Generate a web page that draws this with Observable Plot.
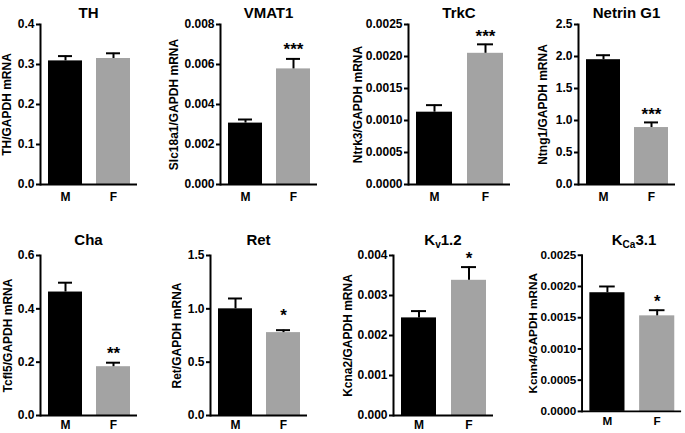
<!DOCTYPE html>
<html><head><meta charset="utf-8">
<script src="https://cdn.jsdelivr.net/npm/d3@7"></script>
<script src="https://cdn.jsdelivr.net/npm/@observablehq/plot@0.6"></script>
<style>
body{margin:0;background:#fff;}
#wrap{position:relative;width:685px;height:433px;overflow:hidden;font-family:"Liberation Sans",Arial,sans-serif;background:#fff;}
.panel{position:absolute;}
.title{position:absolute;font-weight:bold;font-size:15px;transform:translate(-50%,-50%);white-space:nowrap;color:#000;line-height:1;}
.title sub{font-size:10px;vertical-align:-3px;line-height:0;}
</style></head><body><div id="wrap"></div>
<script>
// ---- data ----
const groups = ["M", "F"];
const titles = ["TH", "VMAT1", "TrkC", "Netrin G1", "Cha", "Ret", "K<sub>v</sub>1.2", "K<sub>Ca</sub>3.1"];
const yLabels = ["TH/GAPDH mRNA", "Slc18a1/GAPDH mRNA", "Ntrk3/GAPDH mRNA", "Ntng1/GAPDH mRNA",
                 "Tcfl5/GAPDH mRNA", "Ret/GAPDH mRNA", "Kcna2/GAPDH mRNA", "Kcnn4/GAPDH mRNA"];
const yMax = [0.4, 0.008, 0.0025, 2.5, 0.6, 1.5, 0.004, 0.0025];
const yStep = [0.1, 0.002, 0.0005, 0.5, 0.2, 0.5, 0.001, 0.0005];
const yDecimals = [1, 3, 4, 1, 1, 1, 3, 4];
const meanM = [0.309, 0.00307, 0.00113, 1.95, 0.463, 1.0, 0.00244, 0.0019];
const upperM = [0.321, 0.00325, 0.00124, 2.02, 0.498, 1.097, 0.00261, 0.0020];
const meanF = [0.315, 0.00578, 0.00205, 0.89, 0.183, 0.777, 0.00338, 0.00153];
const upperF = [0.328, 0.00628, 0.00219, 0.97, 0.198, 0.80, 0.00371, 0.00162];
const starsF = ["", "***", "***", "***", "**", "*", "*", "*"];

// ---- layout (not data) ----
const layout = [
  {axisX: 40,  top: 24,  w: 97,  labelOff: 33, starGap: 0,  titleGap: 12, mB: 30, xPad: 8},
  {axisX: 220, top: 24,  w: 97,  labelOff: 46, starGap: 14, titleGap: 12, mB: 30, xPad: 8},
  {axisX: 408, top: 24,  w: 102, labelOff: 50, starGap: 12, titleGap: 12, mB: 30, xPad: 8},
  {axisX: 578, top: 24,  w: 97,  labelOff: 35, starGap: 12, titleGap: 12, mB: 30, xPad: 8},
  {axisX: 40,  top: 255, w: 97,  labelOff: 32, starGap: 13, titleGap: 16, mB: 18, xPad: 5},
  {axisX: 210, top: 255, w: 97,  labelOff: 33, starGap: 19, titleGap: 16, mB: 18, xPad: 5},
  {axisX: 393, top: 255, w: 100, labelOff: 45, starGap: 13, titleGap: 16, mB: 18, xPad: 5},
  {axisX: 583, top: 255, w: 102, labelOff: 50, starGap: 13, titleGap: 16, mB: 18, xPad: 5}
];
const plotH = 160, mL = 60, mR = 4, mT = 10, starSize = 17;
const font = '"Liberation Sans", Arial, sans-serif';

const wrap = document.getElementById("wrap");

titles.forEach((title, i) => {
  const L = layout[i];
  const rows = [
    {g: "M", v: meanM[i], hi: upperM[i], star: ""},
    {g: "F", v: meanF[i], hi: upperF[i], star: starsF[i]}
  ];
  const n = Math.round(yMax[i] / yStep[i]);
  const ticks = d3.range(n + 1).map(k => +(k * yStep[i]).toFixed(yDecimals[i] + 2));
  const chart = Plot.plot({
    width: mL + L.w + mR,
    height: mT + plotH + L.mB,
    marginLeft: mL, marginRight: mR, marginTop: mT, marginBottom: L.mB,
    x: {domain: groups, paddingInner: 0.3, paddingOuter: 0.15, label: null},
    y: {domain: [0, yMax[i]], label: null},
    color: {domain: groups, range: ["#000000", "#a3a3a3"]},
    style: {fontFamily: font, fontSize: "12px", fontWeight: "bold", color: "#000", background: "transparent", overflow: "visible"},
    marks: [
      Plot.barY(rows, {x: "g", y: "v", fill: "g"}),
      Plot.ruleX(rows, {x: "g", y1: "v", y2: "hi", stroke: "#000", strokeWidth: 2}),
      Plot.tickY(rows, {x: "g", y: "hi", stroke: "#000", strokeWidth: 2, insetLeft: 10, insetRight: 10}),
      Plot.text(rows.filter(d => d.star), {x: "g", y: "hi", text: "star", fontSize: starSize, fontWeight: "bold",
        dy: -L.starGap + 0.25 * starSize}),
      Plot.axisY({ticks, tickFormat: d3.format(`.${yDecimals[i]}f`), tickSize: 4, tickPadding: 2, strokeWidth: 2,
        fontSize: 12, fontWeight: "bold", label: null}),
      Plot.axisX({tickSize: 0, tickPadding: L.xPad, fontSize: 12, fontWeight: "bold", label: null}),
      Plot.ruleY([0], {stroke: "#000", strokeWidth: 2}),
      Plot.frame({anchor: "left", stroke: "#000", strokeWidth: 2}),
      Plot.text([yLabels[i]], {frameAnchor: "left", rotate: -90, dx: -L.labelOff, textAnchor: "middle", lineAnchor: "middle",
        fontSize: 12, fontWeight: "bold"})
    ]
  });
  const div = document.createElement("div");
  div.className = "panel";
  div.style.left = (L.axisX - mL) + "px";
  div.style.top = (L.top - mT) + "px";
  div.appendChild(chart);
  wrap.appendChild(div);

  const t = document.createElement("div");
  t.className = "title";
  t.innerHTML = title;
  t.style.left = (L.axisX + L.w / 2) + "px";
  t.style.top = (L.top - L.titleGap) + "px";
  wrap.appendChild(t);
});
</script></body></html>
